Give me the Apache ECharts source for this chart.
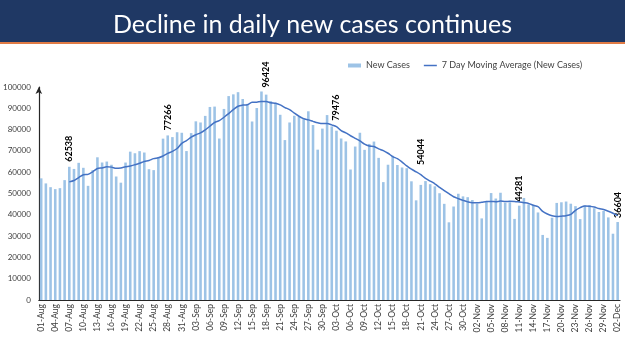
<!DOCTYPE html>
<html>
<head>
<meta charset="utf-8">
<title>Decline in daily new cases continues</title>
<script src="https://cdn.jsdelivr.net/npm/echarts@6/dist/echarts.min.js"></script>
<style>
  html, body { margin: 0; padding: 0; background: #fff; }
  #chart { width: 625px; height: 351px; }
</style>
</head>
<body>
<div id="chart"></div>
<script>
// month names and days shown (01-Aug .. 02-Dec)
const months = ['Aug', 'Sep', 'Oct', 'Nov', 'Dec'];
const monthDays = [31, 30, 31, 30, 2];

// daily new cases
const newCases = [
  57118, 54735, 52972, 52050, 52509, 56282, 62538, 61537, 64399, 62064,
  53601, 60963, 66999, 64553, 65002, 63490, 57982, 55079, 64531, 69652,
  68898, 69878, 69239, 61408, 60975, 67151, 75760, 77266, 76472, 78761,
  78512, 69921, 78357, 83883, 83341, 86432, 90632, 90802, 75809, 89706,
  95735, 96551, 97570, 94372, 92071, 83809, 90123, 97894, 96424, 93337,
  92605, 86961, 75083, 83347, 86508, 86052, 85362, 88600, 82170, 70589,
  80472, 86821, 81484, 79476, 75829, 74442, 61267, 72049, 78524, 70496,
  73272, 74383, 66732, 55342, 63509, 67708, 63371, 62212, 61871, 55722,
  46790, 54044, 55838, 54366, 53370, 50129, 45148, 36470, 43893, 49881,
  48648, 48268, 46963, 45231, 38310, 46253, 50210, 47638, 50356, 45674,
  45903, 38074, 44281, 47905, 44879, 44684, 41100, 30548, 29163, 38617,
  45576, 45882, 46232, 45209, 44059, 37975, 44376, 44489, 43082, 41322,
  41810, 38772, 31118, 36604
];

// 7 day moving average (starts on 07-Aug)
const movingAvg = [
  null, null, null, null, null, null, 55458, 56089, 57470, 58768,
  58990, 60198, 61729, 62017, 62512, 62382, 61799, 62010, 62519, 62898,
  63519, 64216, 65037, 65526, 66369, 66743, 67616, 68811, 69753, 71113,
  73557, 74835, 76436, 77596, 78464, 79887, 81583, 83338, 84179, 85801,
  87494, 89381, 90972, 91506, 91688, 92831, 92890, 93199, 93180, 92576,
  92323, 91593, 90347, 89379, 87752, 86270, 85131, 84559, 83875, 83233,
  82822, 82867, 82214, 81373, 79549, 78445, 77113, 75910, 74724, 73155,
  72268, 72062, 70960, 70114, 68894, 67349, 66331, 64751, 62964, 61391,
  60169, 58817, 57121, 55835, 54572, 52894, 51384, 49909, 48459, 47608,
  46791, 46062, 45610, 45622, 45885, 46222, 46269, 46125, 46423, 46239,
  46335, 46301, 46019, 45690, 45296, 44486, 43832, 41639, 40366, 39557,
  39224, 39367, 39588, 40175, 42105, 43364, 44187, 44032, 43632, 42930,
  42445, 41689, 40710, 39600
];

// bars that carry a value label, and the gap above the bar top
const labelledDays = ['07-Aug', '28-Aug', '18-Sep', '03-Oct', '21-Oct', '11-Nov', '02-Dec'];
const labelGaps = [5, 5, 7, 10, 20, 4, 4];

const dates = [];
months.forEach((m, i) => {
  for (let d = 1; d <= monthDays[i]; d++) {
    dates.push((d < 10 ? '0' : '') + d + '-' + m);
  }
});

const barData = newCases.map((v, i) => {
  const k = labelledDays.indexOf(dates[i]);
  if (k < 0) return v;
  return {
    value: v,
    label: {
      show: true,
      position: 'top',
      rotate: 90,
      align: 'left',
      verticalAlign: 'middle',
      distance: labelGaps[k],
      color: '#000',
      fontWeight: 'bold',
      fontSize: 9,
      fontFamily: 'Lato'
    }
  };
});

const chart = echarts.init(document.getElementById('chart'));
chart.setOption({
  animation: false,
  textStyle: { fontFamily: 'Lato' },
  graphic: [
    { type: 'rect', shape: { x: 0, y: 0, width: 625, height: 42 }, style: { fill: '#1f3864' }, z: 0 },
    { type: 'rect', shape: { x: 0, y: 42, width: 625, height: 2 }, style: { fill: '#e07b45' }, z: 0 }
  ],
  title: {
    text: 'Decline in daily new cases continues',
    left: 'center',
    top: 7,
    textStyle: { color: '#fff', fontSize: 25, fontWeight: 'normal', fontFamily: 'Lato' }
  },
  legend: {
    top: 56,
    left: 343,
    itemGap: 14,
    textStyle: { fontSize: 9, color: '#404040' },
    data: [
      { name: 'New Cases', icon: 'rect', itemStyle: { color: '#9dc3e6' } },
      { name: '7 Day Moving Average (New Cases)', icon: 'path://M0,0H26V3H0Z', itemStyle: { color: '#4472c4' } }
    ],
    itemWidth: 13,
    itemHeight: 4
  },
  grid: { left: 38, right: 5, top: 87, bottom: 51 },
  xAxis: {
    type: 'category',
    data: dates,
    axisLine: { lineStyle: { color: '#262626', width: 1.2 } },
    axisTick: { show: false },
    axisLabel: {
      interval: 2,
      rotate: 90,
      fontSize: 8.5,
      color: '#404040',
      margin: 4
    }
  },
  yAxis: {
    type: 'value',
    min: 0,
    max: 100000,
    interval: 10000,
    splitLine: { show: false },
    axisLine: {
      show: true,
      symbol: ['none', 'arrow'],
      symbolSize: [5, 7],
      lineStyle: { color: '#262626', width: 1.2 }
    },
    axisTick: { show: false },
    axisLabel: { fontSize: 8, color: '#404040', margin: 8, formatter: v => String(v) }
  },
  series: [
    {
      name: 'New Cases',
      type: 'bar',
      data: barData,
      barCategoryGap: '45%',
      itemStyle: { color: '#9dc3e6' }
    },
    {
      name: '7 Day Moving Average (New Cases)',
      type: 'line',
      data: movingAvg,
      symbol: 'none',
      smooth: 0.3,
      lineStyle: { color: '#4472c4', width: 1.5 },
      itemStyle: { color: '#4472c4' },
      z: 3
    }
  ]
});
</script>
</body>
</html>
